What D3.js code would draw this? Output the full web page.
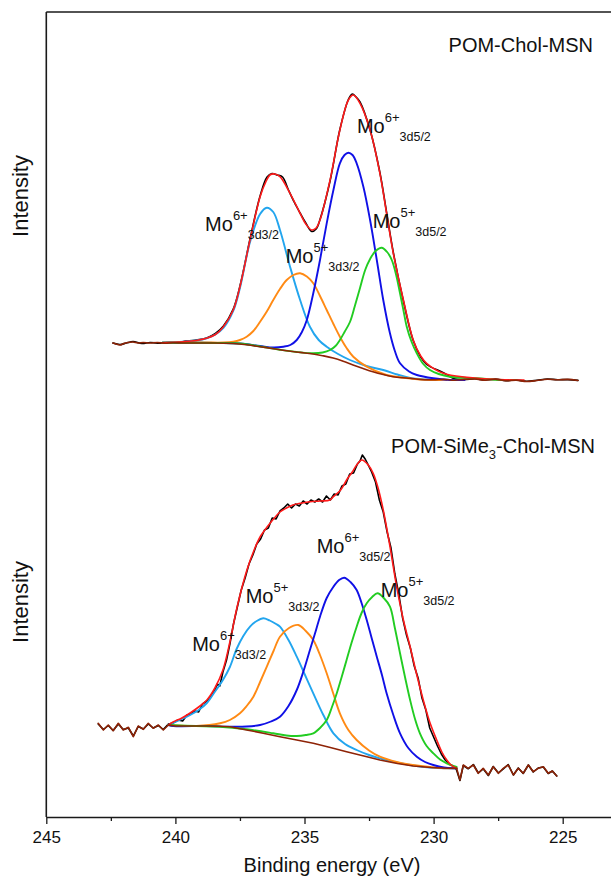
<!DOCTYPE html>
<html>
<head>
<meta charset="utf-8">
<script src="https://cdn.jsdelivr.net/npm/d3@7/dist/d3.min.js"></script>
<style>
  html, body { margin: 0; padding: 0; background: #fff; }
  svg { display: block; font-family: "Liberation Sans", Arial, Helvetica, sans-serif; }
</style>
</head>
<body>
<svg id="chart" width="611" height="880"></svg>
<script>
// ---------------- DATA (binding energy eV, intensity a.u.) ----------------
const majorTicks = [245, 240, 235, 230, 225];
const minorTicks = [242.5, 237.5, 232.5, 227.5];
const xTitle = "Binding energy (eV)";
const yTitle = "Intensity";

// ---- Top panel: POM-Chol-MSN ----
const topRaw = [[242.42,37],[242.15,35.5],[241.9,37],[241.64,38.5],[241.3,36.5],[240.98,37.5],[240.6,36.8],[240.21,37.5],[239.9,37.2],[239.69,38.5],[239.24,39.8],[238.79,42],[238.45,46.5],[238.14,54],[237.76,71],[237.5,94],[237.11,141],[236.72,184],[236.45,203],[236.26,206.5],[236.05,205],[235.85,203],[235.62,190],[235.4,178],[235.17,167],[234.95,157],[234.72,148.5],[234.55,151],[234.4,160.5],[234.01,199],[233.63,250.5],[233.3,280.5],[233.15,286],[233.0,283],[232.85,278],[232.46,250],[232.08,207.5],[231.82,167.5],[231.56,127.5],[231.17,79],[230.79,39.5],[230.5,23],[230.27,15.5],[229.62,7.3],[229.2,1.2],[228.8,0.5],[228.4,1.3],[228.0,0],[227.6,0.9],[227.2,-0.6],[226.8,0],[226.4,-1.2],[226.0,-0.3],[225.6,1.0],[225.2,0.3],[224.8,0.4],[224.41,-0.4]];
const topBackground = [[242.42,37],[242.3,36],[242.15,35],[242.0,36.5],[241.85,37.5],[241.64,38],[241.45,37],[241.25,37.5],[240.98,37],[240.7,37.5],[240.4,36.8],[240.1,37.3],[239.69,37],[239.24,37],[238.79,37],[238.14,36.8],[237.76,36.5],[237.24,35.2],[236.72,33.3],[236.2,31.3],[235.69,29.3],[235.17,27.6],[234.67,26],[234.3,24.3],[233.89,22],[233.5,18.8],[233.12,15],[232.73,11.5],[232.35,8.3],[231.95,5.5],[231.57,3.3],[231.2,2.2],[230.91,1.7],[230.5,0.5],[230.0,0.3],[229.6,0.8],[229.2,-0.3],[228.8,0.6],[228.4,1.0],[228.0,-0.2],[227.6,0.7],[227.2,-0.8],[226.8,-0.3],[226.4,-1.5],[226.0,-0.5],[225.6,0.8],[225.2,0.2],[224.8,0.6],[224.41,-0.5]];
const topEnvelope = [[240.5,37.3],[239.69,38.3],[239.2,39.5],[238.79,41.7],[238.45,45.5],[238.14,53.3],[237.76,70],[237.5,93.3],[237.11,140],[236.72,183.3],[236.5,198],[236.34,205],[236.15,206],[235.95,203.3],[235.56,186.7],[235.17,166.7],[234.95,156],[234.72,150],[234.55,152],[234.4,160],[234.01,200],[233.63,250],[233.3,280],[233.11,285],[232.85,276.7],[232.46,250],[232.08,206.7],[231.82,166.7],[231.56,126.7],[231.17,80],[230.79,40],[230.5,24],[230.27,16.7],[229.62,6.7],[228.72,2.7],[227.43,0.5],[226.5,0]];
const topMo6_32 = [[240.5,37.3],[239.69,38.3],[239.2,39.5],[238.79,41.7],[238.45,45.5],[238.14,52],[237.76,69],[237.5,92],[237.11,138],[236.72,166],[236.46,172.3],[236.21,168],[235.95,150],[235.56,113.3],[235.17,80],[234.79,53.3],[234.45,40],[234.14,33.3],[233.7,26],[233.24,20],[232.6,14],[231.95,10],[231.4,5.5],[230.91,2],[230.3,0.5],[229.7,0]];
const topMo5_32 = [[240.5,37.3],[239.69,37.5],[238.8,37.5],[238.14,37.5],[237.76,38.3],[237.5,40],[237.24,43.3],[236.98,49],[236.72,58.3],[236.46,68.5],[236.21,80],[235.95,91],[235.69,100],[235.43,105],[235.17,106.7],[234.91,103.5],[234.66,96.7],[234.4,84],[234.14,70],[233.88,56],[233.63,43.3],[233.37,32],[233.11,23.3],[232.59,13.3],[231.82,5],[230.91,1.5],[230.14,0],[229.5,0]];
const topMo6_52 = [[240.5,37.3],[238.5,37],[237.5,36.5],[236.72,34],[236.2,32.5],[235.82,33.3],[235.55,35],[235.3,40],[235.1,48],[234.91,60],[234.66,86.7],[234.4,120],[234.14,156.7],[233.88,190],[233.63,216.7],[233.45,225],[233.3,227.3],[233.14,225],[232.98,216.7],[232.72,193.3],[232.46,160],[232.2,120],[231.95,80],[231.69,46.7],[231.5,29],[231.3,16.7],[230.95,8.5],[230.65,5],[230.01,1.7],[229.37,0],[228.8,0]];
const topMo5_52 = [[240.5,37.3],[238.5,37],[237.5,36.5],[236.72,33.5],[236.0,30.5],[235.3,28],[234.66,26.7],[234.3,27.5],[234.01,30],[233.8,34],[233.63,40],[233.45,48],[233.24,58],[233.05,74],[232.85,92],[232.65,110],[232.46,121],[232.25,129],[232.01,132.3],[231.8,128],[231.62,120],[231.45,105],[231.3,86.7],[231.17,70],[231.04,53.3],[230.85,38],[230.65,26.7],[230.4,16],[230.14,10],[229.8,6],[229.37,3.3],[228.33,1.7],[227.43,0],[226.8,0]];

// ---- Bottom panel: POM-SiMe3-Chol-MSN ----
const botRaw = [[242.99,46],[242.79,40.5],[242.6,44.5],[242.41,39.5],[242.21,46],[242.02,40.5],[241.82,42],[241.63,34],[241.44,43.5],[241.24,41],[241.05,46],[240.86,42],[240.66,44.5],[240.47,40.5],[240.27,46],[240.09,47],[239.9,50],[239.72,49],[239.55,55],[239.4,56],[239.25,59],[239.1,58],[238.95,66],[238.78,69],[238.62,74],[238.47,80],[238.38,86],[238.28,84],[238.16,98],[238.02,110],[237.89,126],[237.75,146],[237.61,162],[237.45,180],[237.3,192],[237.15,206],[237.0,215],[236.85,226],[236.7,231],[236.55,240],[236.4,242],[236.25,252],[236.1,251],[235.95,259],[235.8,262],[235.65,266],[235.5,262],[235.35,266],[235.2,264],[235.05,269],[234.9,266],[234.75,270],[234.6,268],[234.45,271],[234.3,268],[234.15,274],[234.0,270],[233.85,276],[233.7,275],[233.55,284],[233.4,286],[233.25,296],[233.1,297],[232.95,306],[232.85,309],[232.76,315],[232.65,311],[232.55,306],[232.4,298],[232.25,288],[232.1,270],[231.95,258],[231.8,238],[231.65,222],[231.5,196],[231.35,176],[231.2,152],[231.05,135],[230.9,122],[230.75,104],[230.6,92],[230.45,72],[230.3,60],[230.15,42],[230.0,33],[229.85,24],[229.7,16],[229.55,10],[229.4,6],[229.25,4],[229.11,0],[228.98,-10.5],[228.85,4.5],[228.66,1.2],[228.46,5.5],[228.27,-3],[228.08,1.2],[227.88,-5.5],[227.69,3.5],[227.49,-3],[227.3,1.2],[227.11,5.5],[226.91,-5],[226.72,2],[226.53,-3.5],[226.33,5],[226.14,-2],[225.95,2],[225.75,3],[225.56,-3.5],[225.4,-1],[225.23,-6]];
const botBackground = [[242.99,46.7],[242.79,40],[242.6,45],[242.41,39.3],[242.21,46.7],[242.02,40],[241.82,42.7],[241.63,33.3],[241.44,44],[241.24,40.7],[241.05,46.7],[240.86,41.7],[240.66,45],[240.47,40],[240.27,45],[240.0,44],[239.4,44],[238.8,44],[238.3,43.8],[237.89,43.3],[237.24,40],[236.6,36.8],[235.95,33.3],[235.3,30],[234.66,26.7],[234.0,22.5],[233.37,18.3],[232.7,14],[232.08,10],[231.4,6.5],[230.79,4],[230.1,2.5],[229.49,1.7],[229.11,1.7],[228.98,-10],[228.85,5],[228.66,1.7],[228.46,5],[228.27,-3.3],[228.08,1.7],[227.88,-5],[227.69,3.3],[227.49,-3.3],[227.3,1.7],[227.11,5],[226.91,-5],[226.72,1.7],[226.53,-3.3],[226.33,5],[226.14,-1.7],[225.95,1.7],[225.75,3.3],[225.56,-3.3],[225.4,-1],[225.23,-6]];
const botEnvelope = [[240.27,45],[240.09,48],[239.75,52],[239.43,57],[239.1,63],[238.78,70],[238.47,82],[238.16,100],[237.89,128],[237.61,163],[237.23,200],[236.92,222],[236.7,234],[236.45,243],[236.2,251],[235.95,258],[235.7,262],[235.45,265],[235.1,267],[234.79,268.3],[234.4,269],[234.01,270],[233.88,273.3],[233.6,280],[233.37,290],[233.15,298],[232.98,305],[232.78,310],[232.53,305],[232.34,296.7],[232.15,282],[231.95,260],[231.7,225],[231.43,183.3],[231.17,150],[230.91,123.3],[230.65,95],[230.4,70],[230.15,48],[229.88,30],[229.68,18],[229.49,10],[229.3,4.5],[229.11,1.7]];
const botMo6_32 = [[240.27,45],[240.09,47],[239.75,51],[239.43,55],[239.1,60],[238.78,67],[238.53,76],[238.16,90],[237.89,103],[237.63,121],[237.37,134],[237.11,143.3],[236.85,149],[236.6,151.7],[236.35,149.5],[236.1,146],[235.95,143.3],[235.62,130],[235.3,113.3],[234.98,95],[234.66,76.7],[234.27,55],[233.88,36.7],[233.43,26],[232.98,20],[232.5,15],[232.08,11.7],[231.43,7.5],[230.79,4.5],[230.14,2.5],[229.49,1.7],[229.11,1.7]];
const botMo5_32 = [[240.27,45],[239.18,44],[238.27,46.7],[237.89,50],[237.5,56.7],[237.24,64],[236.98,73.3],[236.72,88],[236.46,103.3],[236.2,119],[235.95,133.3],[235.6,142],[235.24,145],[234.95,139],[234.66,130],[234.4,115],[234.14,96.7],[233.88,76],[233.63,56.7],[233.3,40],[232.98,30],[232.5,19.5],[232.08,13.3],[231.43,8],[230.79,5],[230.14,3],[229.49,1.7],[229.11,1.7]];
const botMo6_52 = [[240.27,45],[240.08,44],[238.8,44],[237.89,43.3],[237.24,43.5],[236.72,45],[236.3,48.5],[235.95,53.3],[235.62,64],[235.3,80],[235.05,98],[234.79,120],[234.6,136],[234.4,153.3],[234.14,172],[233.88,183.3],[233.66,190],[233.46,192.3],[233.22,188],[232.98,180],[232.79,167],[232.59,150],[232.4,132],[232.2,113.3],[232.0,95],[231.82,76.7],[231.56,55],[231.3,36.7],[230.98,22],[230.65,13.3],[230.33,8],[230.01,5],[229.6,2.5],[229.24,1.7],[229.11,1.7]];
const botMo5_52 = [[240.27,45],[239.2,44],[238.27,43.3],[237.24,40.7],[236.21,36.7],[235.7,34.5],[235.3,34],[234.95,35],[234.66,36.7],[234.4,42],[234.14,50],[233.95,62],[233.75,76.7],[233.56,93],[233.37,110],[233.18,127],[232.98,143.3],[232.79,157],[232.59,166.7],[232.38,173],[232.17,176.7],[231.93,172],[231.69,163.3],[231.5,142],[231.3,116.7],[231.1,92],[230.91,70],[230.72,51],[230.53,36.7],[230.27,24],[230.01,16.7],[229.75,10.5],[229.49,6.7],[229.11,3]];

// Peak labels: [ion charge, orbital, energy, intensity]
const topLabels = [["6+","3d5/2",232.97,246.7],["6+","3d3/2",238.85,149.3],["5+","3d3/2",235.73,117.3],["5+","3d5/2",232.36,151.7]];
const botLabels = [["6+","3d5/2",234.53,216.7],["5+","3d3/2",237.28,167.3],["6+","3d3/2",239.35,119.3],["5+","3d5/2",232.05,173.3]];

// ---------------- DRAWING ----------------
const svg = d3.select("#chart");
const W = 611;
const padL = 46.3, padT = 12, axisY = 817;

const x = d3.scaleLinear().domain([245, 222.5]).range([padL, padL + 22.5 * 25.82]);
const yTop = d3.scaleLinear().domain([0, 285]).range([380, 95]);
const yBot = d3.scaleLinear().domain([0, 310]).range([770, 460]);

const colors = {
  raw: "#000000", env: "#ff1a1a", bg: "#8e2306",
  mo6_32: "#22a5ee", mo5_32: "#ff8a14", mo6_52: "#1010e6", mo5_52: "#22cc22"
};

function drawPanel(y, s) {
  const g = svg.append("g");
  const smooth = d3.line().x(d => x(d[0])).y(d => y(d[1])).curve(d3.curveCatmullRom.alpha(0.5));
  const lin = d3.line().x(d => x(d[0])).y(d => y(d[1]));
  const path = (data, gen, color, w) => g.append("path").attr("d", gen(data))
      .attr("fill", "none").attr("stroke", color).attr("stroke-width", w)
      .attr("stroke-linejoin", "round").attr("stroke-linecap", "round");
  path(s.raw, s.rawGen === "lin" ? lin : smooth, colors.raw, 1.6);
  path(s.c1, smooth, colors.mo6_32, 1.9);
  path(s.c2, smooth, colors.mo5_32, 1.9);
  path(s.c3, smooth, colors.mo6_52, 1.9);
  path(s.c4, smooth, colors.mo5_52, 1.9);
  path(s.env, smooth, colors.env, 1.6);
  path(s.bg, s.rawGen === "lin" ? lin : smooth, colors.bg, 1.6);
  s.labels.forEach(l => {
    const t = g.append("text").attr("x", x(l[2])).attr("y", y(l[3]))
      .attr("fill", "#111").attr("font-size", 20);
    t.append("tspan").text("Mo");
    t.append("tspan").attr("dy", -11).attr("font-size", 13).text(l[0]);
    t.append("tspan").attr("dy", 19).attr("font-size", 12.5).text(l[1]);
  });
}

drawPanel(yTop, {raw: topRaw, bg: topBackground, env: topEnvelope, c1: topMo6_32, c2: topMo5_32, c3: topMo6_52, c4: topMo5_52, labels: topLabels, rawGen: "smooth"});
drawPanel(yBot, {raw: botRaw, bg: botBackground, env: botEnvelope, c1: botMo6_32, c2: botMo5_32, c3: botMo6_52, c4: botMo5_52, labels: botLabels, rawGen: "lin"});

svg.append("text").attr("x", 593).attr("y", 51.5).attr("text-anchor", "end")
  .attr("font-size", 20).attr("fill", "#111").text("POM-Chol-MSN");
const t2 = svg.append("text").attr("x", 595).attr("y", 453).attr("text-anchor", "end")
  .attr("font-size", 20).attr("fill", "#111");
t2.append("tspan").text("POM-SiMe");
t2.append("tspan").attr("dy", 6).attr("font-size", 13).text("3");
t2.append("tspan").attr("dy", -6).text("-Chol-MSN");

const axisColor = "#1a1a1a";
svg.append("line").attr("x1", padL).attr("x2", W + 2).attr("y1", padT).attr("y2", padT)
  .attr("stroke", axisColor).attr("stroke-width", 1.6);
svg.append("line").attr("x1", padL).attr("x2", padL).attr("y1", padT).attr("y2", axisY)
  .attr("stroke", axisColor).attr("stroke-width", 1.6);

const ax = svg.append("g").attr("transform", `translate(0,${axisY})`)
  .call(d3.axisBottom(x).tickValues(majorTicks).tickSize(7).tickSizeOuter(0).tickPadding(7).tickFormat(d3.format("d")));
ax.select(".domain").attr("stroke", axisColor).attr("stroke-width", 1.6);
ax.selectAll(".tick line").attr("stroke", axisColor).attr("stroke-width", 1.3);
ax.selectAll(".tick text").attr("font-size", 17).attr("fill", "#111")
  .attr("font-family", "'Liberation Sans', Arial, sans-serif");
const axm = svg.append("g").attr("transform", `translate(0,${axisY})`)
  .call(d3.axisBottom(x).tickValues(minorTicks).tickSize(4).tickSizeOuter(0).tickFormat(""));
axm.select(".domain").remove();
axm.selectAll(".tick line").attr("stroke", axisColor).attr("stroke-width", 1.3);

svg.append("text").attr("x", 332).attr("y", 872).attr("text-anchor", "middle")
  .attr("font-size", 20).attr("fill", "#111").text(xTitle);
[196, 602].forEach(cy => {
  svg.append("text").attr("transform", `translate(28,${cy}) rotate(-90)`)
    .attr("text-anchor", "middle").attr("font-size", 22).attr("fill", "#111").text(yTitle);
});
</script>
</body>
</html>
